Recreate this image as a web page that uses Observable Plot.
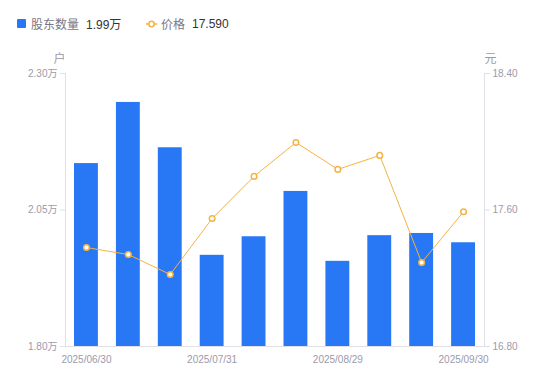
<!DOCTYPE html>
<html><head><meta charset="utf-8">
<script src="https://cdn.jsdelivr.net/npm/d3@7"></script>
<script src="https://cdn.jsdelivr.net/npm/@observablehq/plot@0.6"></script>
<style>
body{margin:0;background:#fff;font-family:"Liberation Sans","Noto Sans CJK SC",sans-serif;}
#legend{height:45px;position:relative;font-size:12px;}
.item{position:absolute;top:15px;display:flex;align-items:center;white-space:nowrap;}
.lab{color:#777787;margin-right:7px;}
.val{color:#333;}
</style></head>
<body>
<div id="legend">
  <div class="item" style="left:17px"><span style="display:inline-block;width:9px;height:9px;background:#2878f5;border-radius:1px;margin-right:5px"></span><span class="lab">股东数量</span><span class="val">1.99万</span></div>
  <div class="item" style="left:146px"><svg width="11" height="10" style="margin-right:4px"><line x1="0" y1="5" x2="11" y2="5" stroke="#f5b342" stroke-width="1.5"/><circle cx="5.5" cy="5" r="2.7" fill="#fff" stroke="#f5b342" stroke-width="1.6"/></svg><span class="lab">价格</span><span class="val">17.590</span></div>
</div>
<div id="chart"></div>
<script>
const dates = ["2025/06/30","2025/07/10","2025/07/20","2025/07/31","2025/08/08","2025/08/20","2025/08/29","2025/09/10","2025/09/19","2025/09/30"];
const holders = [2.135, 2.247, 2.164, 1.967, 2.001, 2.084, 1.956, 2.003, 2.007, 1.990];
const prices = [17.380, 17.339, 17.222, 17.550, 17.797, 17.996, 17.838, 17.920, 17.292, 17.590];
const xLabels = ["2025/06/30","2025/07/31","2025/08/29","2025/09/30"];
const leftTicks = [1.80, 2.05, 2.30];
const rightTicks = [16.80, 17.60, 18.40];

const L0 = 1.80, L1 = 2.30, R0 = 16.80, R1 = 18.40;
const toLeft = p => L0 + (p - R0) / (R1 - R0) * (L1 - L0);
const toRight = v => R0 + (v - L0) / (L1 - L0) * (R1 - R0);

const data = dates.map((d, i) => ({date: d, holders: holders[i], price: prices[i], py: toLeft(prices[i])}));
const gray = "#9a9aab";
const axisColor = "#e0e0e6";
const font = "'Liberation Sans','Noto Sans CJK SC',sans-serif";

const chart = Plot.plot({
  width: 550,
  height: 336,
  marginLeft: 65,
  marginRight: 66,
  marginTop: 28,
  marginBottom: 35,
  style: {fontFamily: font, fontSize: "10px", color: gray, background: "#fff"},
  x: {type: "band", domain: dates, paddingInner: 0.43, paddingOuter: 0.215, round: false},
  y: {domain: [L0, L1]},
  marks: [
    Plot.barY(data, {x: "date", y1: L0, y2: "holders", fill: "#2878f5"}),
    Plot.frame({anchor: "left", stroke: axisColor}),
    Plot.frame({anchor: "right", stroke: axisColor}),
    Plot.frame({anchor: "bottom", stroke: axisColor}),
    Plot.axisY(leftTicks, {anchor: "left", tickFormat: d => d.toFixed(2) + "万", label: null, tickSize: 5, tickPadding: 3, stroke: axisColor, fill: gray}),
    Plot.axisY(rightTicks.map(toLeft), {anchor: "right", tickFormat: d => toRight(d).toFixed(2), label: null, tickSize: 5, tickPadding: 3, stroke: axisColor, fill: gray}),
    Plot.axisX({ticks: xLabels, tickSize: 0, tickPadding: 9, label: null, fill: gray}),
    Plot.line(data, {x: "date", y: "py", stroke: "#f5b342", strokeWidth: 1}),
    Plot.dot(data, {x: "date", y: "py", r: 2.8, fill: "#fff", stroke: "#f5b342", strokeWidth: 1.5}),
    Plot.text(["户"], {frameAnchor: "top-left", textAnchor: "middle", dx: -6, dy: -19, fill: gray, fontSize: 12}),
    Plot.text(["元"], {frameAnchor: "top-right", textAnchor: "middle", dx: 6, dy: -19, fill: gray, fontSize: 12})
  ]
});
document.getElementById("chart").appendChild(chart);
</script>
</body></html>
